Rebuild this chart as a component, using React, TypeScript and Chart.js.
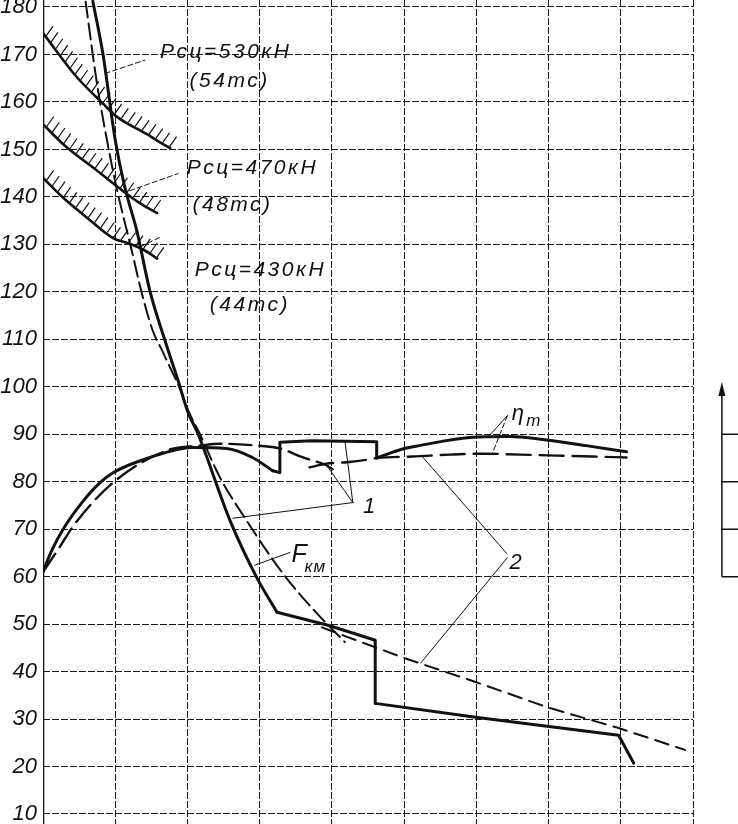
import { useEffect, useRef } from "react";
import { Chart, registerables } from "chart.js";

Chart.register(...registerables);

// ---------- axis ticks ----------
const yTicks = [10, 20, 30, 40, 50, 60, 70, 80, 90, 100, 110, 120, 130, 140, 150, 160, 170, 180];
const xGrid = [0, 1, 2, 3, 4, 5, 6, 7, 8, 9];
const yMin = 7.89;
const yMax = 181.47;

// ---------- F_km, solid (curve 1) ----------
const fSolidUpX = [0.69, 0.83, 1.0, 1.13, 1.3, 1.48, 1.69, 1.87, 2.01, 2.14, 2.59, 2.96, 3.24];
const fSolidUpY = [181.2, 170.1, 152.0, 142.2, 132.8, 120.2, 109.7, 101.3, 94.5, 90.3, 71.8, 59.8, 52.5];
const fSolidLowX = [3.24, 3.96, 4.6, 4.6, 5.99, 7.97, 8.18];
const fSolidLowY = [52.5, 49.7, 46.6, 33.3, 30.4, 26.6, 20.7];

// ---------- F_km, dashed (curve 2) ----------
const fDashAX = [0.59, 0.75, 0.89, 1.02, 1.23, 1.37, 1.52, 1.65, 1.78, 1.89, 2.01, 2.17, 2.45, 2.82, 3.32, 3.79, 4.18];
const fDashAY = [181.1, 163.6, 151.6, 141.8, 128.6, 119.6, 111.8, 107.6, 103.4, 99.8, 95.0, 90.1, 80.9, 71.8, 60.7, 52.3, 46.2];
const fDashBX = [3.86, 5.01, 5.99, 6.98, 7.97, 8.89];
const fDashBY = [49.3, 42.8, 37.8, 32.5, 28.1, 23.5];

// ---------- efficiency eta_T, solid ----------
const etaSolidAX = [0.0, 0.12, 0.3, 0.55, 0.79, 0.97, 1.48, 2.07, 2.54, 2.9, 3.18];
const etaSolidAY = [61.0, 65.5, 70.5, 75.8, 79.8, 81.9, 85.1, 87.2, 87.0, 85.1, 82.3];
const etaSolidBX = [3.18, 3.28, 3.28, 3.72, 4.62, 4.62];
const etaSolidBY = [82.3, 81.9, 88.3, 88.6, 88.4, 85.0];
const etaSolidCX = [4.62, 4.98, 5.21, 5.91, 6.46, 6.92, 7.52, 8.08];
const etaSolidCY = [85.0, 86.9, 87.6, 89.3, 89.5, 88.9, 87.6, 86.3];

// ---------- efficiency eta_T, dashed ----------
const etaDashAX = [0.0, 0.2, 0.45, 0.97, 1.72, 2.17, 2.45, 2.96, 3.28, 3.6, 3.93, 4.01];
const etaDashAY = [61.0, 65.5, 71.3, 79.8, 86.6, 87.6, 88.0, 87.6, 87.0, 85.1, 83.4, 82.6];
const etaDashBX = [3.69, 3.93, 4.2, 4.52, 4.62, 5.12, 5.63, 6.09, 6.6, 7.11, 7.61, 8.08];
const etaDashBY = [83.0, 83.8, 84.1, 84.7, 85.0, 85.3, 85.7, 85.9, 85.7, 85.5, 85.3, 85.1];

// ---------- adhesion limits ----------
const adh530X = [0, 0.47, 0.82, 1.02, 1.44, 1.66, 1.76];
const adh530Y = [174.5, 165.2, 159.8, 156.9, 153.2, 151.1, 150.3];
const adh470X = [0, 0.28, 0.75, 1.11, 1.34, 1.58];
const adh470Y = [155.3, 151.1, 145.5, 141.2, 138.7, 136.6];
const adh430X = [0, 0.28, 0.61, 0.97, 1.2, 1.41, 1.58];
const adh430Y = [144.0, 139.8, 135.6, 131.3, 130.1, 128.7, 127.0];

// ---------- leader lines [x1, y1, x2, y2] ----------
const leaderSegments = [
  [0.86, 166.0, 1.41, 168.8],
  [1.2, 141.3, 1.87, 144.9],
  [1.35, 129.5, 1.62, 131.5],
  [2.93, 62.4, 3.42, 65.1],
  [4.29, 75.6, 4.18, 88.7],
  [4.29, 75.6, 3.93, 83.4],
  [4.29, 75.6, 2.63, 72.3],
  [6.42, 64.9, 5.24, 85.5],
  [6.43, 64.0, 5.23, 41.8],
  [6.43, 93.9, 6.18, 89.7],
  [6.43, 93.9, 6.22, 85.9],
];

// ---------- annotation texts ----------
const noteText = ["Рсц=530кН", "(54тс)", "Рсц=470кН", "(48тс)", "Рсц=430кН", "(44тс)", "F", "км", "1", "2", "η", "т"];
const noteX = [1.62, 2.03, 1.99, 2.07, 2.1, 2.31, 3.44, 3.62, 4.43, 6.46, 6.49, 6.69];
const noteY = [169.2, 163.1, 144.8, 137.0, 123.4, 116.0, 63.0, 60.9, 73.5, 61.7, 92.9, 91.8];
const noteKind = ["big", "big", "big", "big", "big", "big", "f", "sub", "num", "num", "num", "sub"];

// ---------- side fragment of neighbouring chart ----------
const sideAxisX = 9.4;
const sideAxisEndX = 9.7;
const sideTicks = [70, 80, 90];
const sideBottom = 60;
const sideTop = 101;

const pts = (xs: number[], ys: number[]) => xs.map((x, i) => ({ x, y: ys[i] }));

const INK = "#111";

const hatchPlugin = {
  id: "hatch",
  afterDatasetsDraw(chart: any) {
    const ctx = chart.ctx;
    ctx.save();
    ctx.beginPath();
    ctx.rect(chart.chartArea.left, chart.chartArea.top, chart.chartArea.right - chart.chartArea.left, chart.chartArea.bottom - chart.chartArea.top);
    ctx.clip();
    ctx.strokeStyle = INK;
    ctx.lineWidth = 1.2;
    chart.data.datasets.forEach((ds: any, i: number) => {
      if (!ds.hatch) return;
      const meta = chart.getDatasetMeta(i);
      const p = meta.data.map((e: any) => ({ x: e.x, y: e.y }));
      ctx.beginPath();
      let carry = 5;
      const step = 8;
      for (let k = 0; k < p.length - 1; k++) {
        const a = p[k], b = p[k + 1];
        const dx = b.x - a.x, dy = b.y - a.y;
        const len = Math.hypot(dx, dy);
        let t = carry;
        while (t < len) {
          const px = a.x + (dx * t) / len;
          const py = a.y + (dy * t) / len;
          ctx.moveTo(px, py - 1);
          ctx.lineTo(px + 7, py - 11);
          t += step;
        }
        carry = t - len;
      }
      ctx.stroke();
    });
    ctx.restore();
  },
};

const notesPlugin = {
  id: "notes",
  afterDatasetsDraw(chart: any) {
    const ctx = chart.ctx;
    const xs = chart.scales.x;
    const ys = chart.scales.y;
    ctx.save();
    ctx.fillStyle = INK;
    ctx.textAlign = "left";
    ctx.textBaseline = "alphabetic";
    noteText.forEach((t, i) => {
      const k = noteKind[i];
      let font = 'italic 21px "Liberation Sans"';
      let sp = "2.5px";
      if (k === "f") { font = 'italic 25px "Liberation Sans"'; sp = "0px"; }
      if (k === "sub") { font = 'italic 17px "Liberation Sans"'; sp = "1px"; }
      if (k === "num") { font = 'italic 22px "Liberation Sans"'; sp = "0px"; }
      ctx.font = font;
      (ctx as any).letterSpacing = sp;
      ctx.fillText(t, xs.getPixelForValue(noteX[i]), ys.getPixelForValue(noteY[i]));
    });
    (ctx as any).letterSpacing = "0px";
    // side fragment (cut-off neighbouring diagram)
    const ax = xs.getPixelForValue(sideAxisX);
    const ex = xs.getPixelForValue(sideAxisEndX);
    const yb = ys.getPixelForValue(sideBottom);
    const yt = ys.getPixelForValue(sideTop);
    ctx.strokeStyle = INK;
    ctx.lineWidth = 1.5;
    ctx.beginPath();
    ctx.moveTo(ax, yb);
    ctx.lineTo(ax, yt + 8);
    ctx.moveTo(ax, yb);
    ctx.lineTo(ex, yb);
    sideTicks.forEach((v) => {
      const y = ys.getPixelForValue(v);
      ctx.moveTo(ax, y);
      ctx.lineTo(ex, y);
    });
    ctx.stroke();
    ctx.beginPath();
    ctx.moveTo(ax, yt);
    ctx.lineTo(ax - 3.5, yt + 14);
    ctx.lineTo(ax + 3.5, yt + 14);
    ctx.closePath();
    ctx.fillStyle = INK;
    ctx.fill();
    ctx.restore();
  },
};

export default function App() {
  const ref = useRef<HTMLCanvasElement | null>(null);

  useEffect(() => {
    if (!ref.current) return;
    const base = { pointRadius: 0, fill: false, borderColor: INK, showLine: true, borderCapStyle: "round", borderJoinStyle: "round" };
    const smooth = { cubicInterpolationMode: "monotone" };
    const leaders = leaderSegments.map((s, i) => ({
      ...base,
      data: [{ x: s[0], y: s[1] }, { x: s[2], y: s[3] }],
      borderWidth: 1,
      borderDash: i === 0 || i === 1 || i === 2 || i === 10 ? [5, 3] : [],
    }));

    const chart = new Chart(ref.current, {
      type: "line",
      data: {
        datasets: [
          { ...base, data: [{ x: 0, y: yMin }, { x: 0, y: yMax }], borderWidth: 2.6 },
          { ...base, ...smooth, data: pts(adh530X, adh530Y), borderWidth: 2.6, hatch: true },
          { ...base, ...smooth, data: pts(adh470X, adh470Y), borderWidth: 2.6, hatch: true },
          { ...base, ...smooth, data: pts(adh430X, adh430Y), borderWidth: 2.6, hatch: true },
          { ...base, ...smooth, data: pts(fSolidUpX, fSolidUpY), borderWidth: 3 },
          { ...base, data: pts(fSolidLowX, fSolidLowY), borderWidth: 3, tension: 0 },
          { ...base, ...smooth, data: pts(fDashAX, fDashAY), borderWidth: 2, borderDash: [16, 6] },
          { ...base, data: pts(fDashBX, fDashBY), borderWidth: 2, borderDash: [14, 8], tension: 0 },
          { ...base, ...smooth, data: pts(etaSolidAX, etaSolidAY), borderWidth: 3 },
          { ...base, data: pts(etaSolidBX, etaSolidBY), borderWidth: 3, tension: 0 },
          { ...base, ...smooth, data: pts(etaSolidCX, etaSolidCY), borderWidth: 3 },
          { ...base, ...smooth, data: pts(etaDashAX, etaDashAY), borderWidth: 2.4, borderDash: [22, 8] },
          { ...base, ...smooth, data: pts(etaDashBX, etaDashBY), borderWidth: 2.4, borderDash: [24, 9] },
          ...leaders,
        ] as any,
      },
      options: {
        animation: false,
        responsive: false,
        events: [],
        layout: { padding: { left: 0, right: 45, top: 0, bottom: 0 } },
        plugins: { legend: { display: false }, tooltip: { enabled: false }, title: { display: false } },
        scales: {
          x: {
            type: "linear",
            min: 0,
            max: 9,
            afterBuildTicks: (s: any) => { s.ticks = xGrid.map((v) => ({ value: v })); },
            afterFit: (s: any) => { s.height = 0; s.paddingLeft = 0; s.paddingRight = 0; },
            ticks: { display: false },
            grid: { color: "#1a1a1a", lineWidth: 1, drawTicks: false },
            border: { display: false, dash: [7, 2] },
          },
          y: {
            type: "linear",
            min: yMin,
            max: yMax,
            afterBuildTicks: (s: any) => { s.ticks = yTicks.map((v) => ({ value: v })); },
            afterFit: (s: any) => { s.width = 43; s.paddingTop = 0; s.paddingBottom = 0; },
            ticks: {
              autoSkip: false,
              padding: 6,
              color: INK,
              font: { family: '"Liberation Sans"', size: 22, style: "italic", weight: "normal" },
              callback: (v: any) => String(v),
            },
            grid: { color: "#1a1a1a", lineWidth: 1, drawTicks: false },
            border: { display: false, dash: [7, 2] },
          },
        },
      } as any,
      plugins: [hatchPlugin, notesPlugin],
    });
    return () => chart.destroy();
  }, []);

  return (
    <div style={{ position: "fixed", left: 0, top: 0, width: 738, height: 824, background: "#fff" }}>
      <canvas ref={ref} width={738} height={824} style={{ display: "block" }} />
    </div>
  );
}
